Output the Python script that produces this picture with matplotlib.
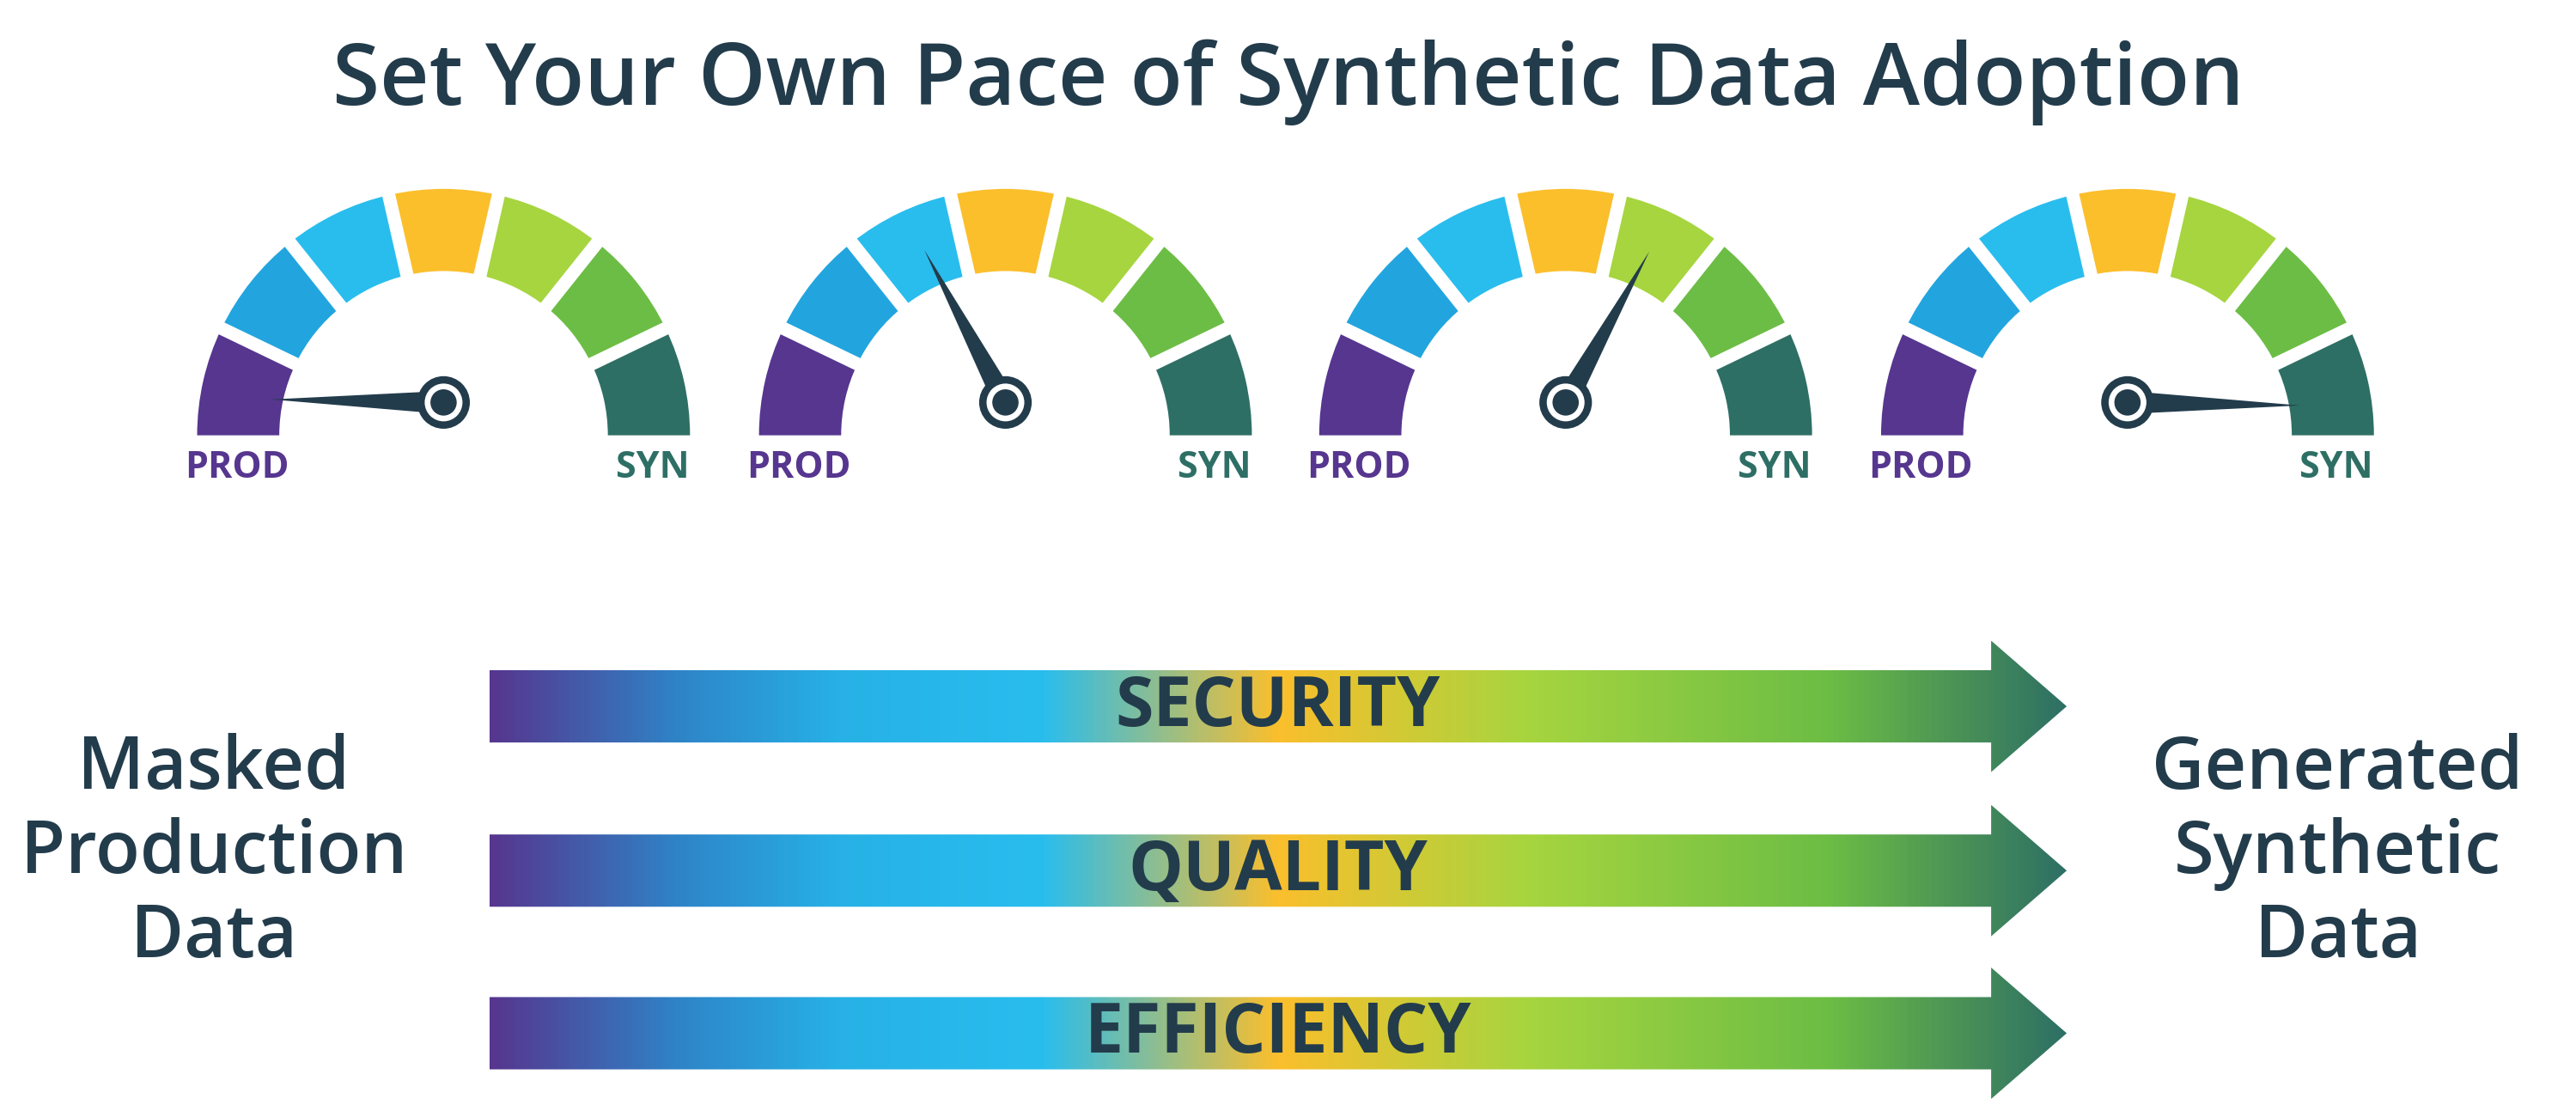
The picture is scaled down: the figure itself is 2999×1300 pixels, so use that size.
import numpy as np
import matplotlib
matplotlib.use("Agg")
import matplotlib.pyplot as plt
from matplotlib.patches import Wedge, Circle, Polygon
from matplotlib.colors import LinearSegmentedColormap

title = "Set Your Own Pace of Synthetic Data Adoption"
segment_colors = ["#56368F", "#22A5DE", "#29BDEE", "#FBBF2C", "#A6D53F", "#6CBD45", "#2E6F65"]
needle_angles = [179, 118, 61, -1]
gauge_centers_x = [270, 612, 953, 1295]
row_labels = ["SECURITY", "QUALITY", "EFFICIENCY"]
row_y = [430, 530, 629]
left_text = "Masked\nProduction\nData"
right_text = "Generated\nSynthetic\nData"
DARK = "#233C4C"
FONT = "Open Sans"

fig = plt.figure(figsize=(29.99, 13.0), dpi=100)
ax = fig.add_axes([0, 0, 1, 1])
ax.set_xlim(0, 1568)
ax.set_ylim(680, 0)
ax.axis("off")

ax.text(784, 50, title, ha="center", va="center", fontsize=72, color=DARK, family=FONT,
        fontweight="semibold")

cy = 265
r_out, r_in = 150, 100
n = len(segment_colors)
for cx, ang in zip(gauge_centers_x, needle_angles):
    for i, c in enumerate(segment_colors):
        a1 = 180 - (i + 1) * 180 / n
        a2 = 180 - i * 180 / n
        ax.add_patch(Wedge((cx, cy), r_out, -a2, -a1, width=r_out - r_in, facecolor=c, edgecolor="none"))
    for i in range(1, n):
        a = np.radians(180 - i * 180 / n)
        ax.plot([cx + (r_in - 5) * np.cos(a), cx + (r_out + 5) * np.cos(a)],
                [cy - (r_in - 5) * np.sin(a), cy - (r_out + 5) * np.sin(a)],
                color="white", lw=11, solid_capstyle="butt", zorder=2)
    hx, hy = cx, 245
    t = np.radians(ang)
    L = 105
    tip = (hx + L * np.cos(t), hy - L * np.sin(t))
    px, py = -np.sin(t), -np.cos(t)
    w = 7
    ax.add_patch(Polygon([(hx + w * px, hy + w * py), tip, (hx - w * px, hy - w * py)],
                         closed=True, facecolor=DARK, edgecolor="none", zorder=3))
    ax.add_patch(Circle((hx, hy), 16, facecolor=DARK, zorder=4))
    ax.add_patch(Circle((hx, hy), 11.5, facecolor="white", zorder=5))
    ax.add_patch(Circle((hx, hy), 8, facecolor=DARK, zorder=6))
    ax.text(cx - 126, 285, "PROD", ha="center", va="center", fontsize=31, fontweight="bold",
            color=segment_colors[0], family=FONT)
    ax.text(cx + 127, 285, "SYN", ha="center", va="center", fontsize=31, fontweight="bold",
            color=segment_colors[-1], family=FONT)

grad_cmap = LinearSegmentedColormap.from_list("g", [
    (0.0, "#56368F"), (0.12, "#2E85C8"), (0.22, "#27B1E6"), (0.35, "#29BDEE"),
    (0.50, "#FBBF2C"), (0.66, "#A6D53F"), (0.85, "#6CBD45"), (1.0, "#2E6F65")])
x0, x1, xh = 298, 1212, 1258
grad = np.linspace(0, 1, 512).reshape(1, -1)
for lab, yc in zip(row_labels, row_y):
    poly = Polygon([(x0, yc - 22), (x1, yc - 22), (x1, yc - 40), (xh, yc),
                    (x1, yc + 40), (x1, yc + 22), (x0, yc + 22)], closed=True,
                   facecolor="none", edgecolor="none")
    ax.add_patch(poly)
    im = ax.imshow(grad, extent=[x0, xh, yc + 40, yc - 40], cmap=grad_cmap, aspect="auto", zorder=1)
    im.set_clip_path(poly)
    ax.text(778, yc + 1, lab, ha="center", va="center", fontsize=58, fontweight="bold",
            color=DARK, family=FONT)

ax.text(130, 520, left_text, ha="center", va="center", fontsize=61, color=DARK,
        family=FONT, fontweight="semibold", linespacing=1.18)
ax.text(1423, 520, right_text, ha="center", va="center", fontsize=61, color=DARK,
        family=FONT, fontweight="semibold", linespacing=1.18)
ax.set_xlim(0, 1568)
ax.set_ylim(680, 0)
fig.savefig("out.png", dpi=100)
